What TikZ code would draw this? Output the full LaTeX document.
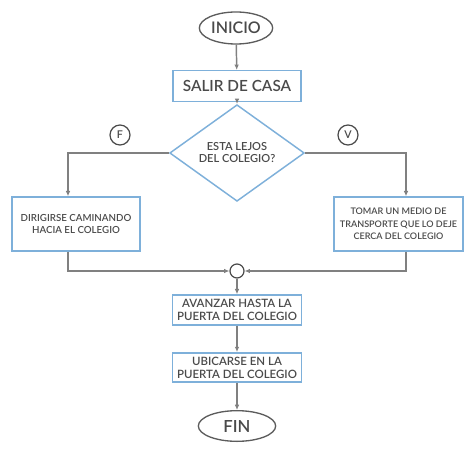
\documentclass[tikz,border=0pt]{standalone}
\usepackage{fontspec}
\setmainfont{Lato}[UprightFont=* Semibold]
\usetikzlibrary{shapes.geometric,arrows.meta}
\definecolor{borde}{HTML}{7EB0DA}
\definecolor{texto}{HTML}{4A4A4A}
\definecolor{linea}{HTML}{808080}

\begin{document}
\begin{tikzpicture}[x=0.75pt,y=-0.75pt,
  caja/.style={draw=borde,line width=1.1pt,text=texto,align=center,inner sep=1pt},
  extremo/.style={ellipse,draw=texto!90,line width=1pt,text=texto,inner sep=0pt},
  marca/.style={circle,draw=texto,line width=0.9pt,text=texto,inner sep=0pt},
  flecha/.style={draw=linea,line width=1.1pt,-{Latex[length=4pt,width=3.5pt]}},
  linea/.style={draw=linea,line width=1.1pt}]
   \useasboundingbox (0,0) rectangle (474,456);
   % inicio y primer paso
   \node[extremo,minimum width=55pt,minimum height=24pt,font=\fontsize{12}{14}\selectfont] (inicio) at (236,28) {INICIO};
   \node[caja,minimum width=96pt,minimum height=23pt,font=\fontsize{11.5}{13}\selectfont] (salir) at (237,86) {SALIR DE CASA};
   \node[diamond,draw=borde,line width=1.1pt,text=texto,align=center,inner sep=0pt,
         minimum width=101pt,minimum height=43pt,font=\fontsize{8.3}{9}\selectfont] (decision) at (237,153) {ESTA LEJOS\\DEL COLEGIO?};
   \node[marca,minimum size=15pt,font=\fontsize{8}{9}\selectfont] (falso) at (120,135) {F};
   \node[marca,minimum size=15pt,font=\fontsize{8}{9}\selectfont] (verdad) at (348,135) {V};
   % ramas
   \node[caja,minimum width=96pt,minimum height=40.5pt,font=\fontsize{7.3}{9.3}\selectfont] (caminar) at (76,224) {DIRIGIRSE CAMINANDO\\HACIA EL COLEGIO};
   \node[caja,minimum width=97pt,minimum height=40.5pt,font=\fontsize{6.8}{9.3}\selectfont] (transporte) at (398.5,224) {TOMAR UN MEDIO DE\\TRANSPORTE QUE LO DEJE\\CERCA DEL COLEGIO};
   \node[circle,draw=texto,line width=0.9pt,minimum size=10.5pt,inner sep=0pt] (union) at (237,271) {};
   % final
   \node[caja,minimum width=97pt,minimum height=22.5pt,font=\fontsize{8.6}{9.6}\selectfont] (avanzar) at (237,310) {AVANZAR HASTA LA\\PUERTA DEL COLEGIO};
   \node[caja,minimum width=97pt,minimum height=22pt,font=\fontsize{8.6}{9.6}\selectfont] (ubicarse) at (237,367.5) {UBICARSE EN LA\\PUERTA DEL COLEGIO};
   \node[extremo,minimum width=58pt,minimum height=23pt,font=\fontsize{12.5}{14}\selectfont] (fin) at (237,426) {FIN};
   \coordinate (izq) at (68,153);
   \coordinate (der) at (406,153);
   \coordinate (izqb) at (68,271);
   \coordinate (derb) at (406,271);
   % conectores
   \draw[flecha] (inicio) -- (salir);
   \draw[flecha] (salir) -- (decision);
   \draw[flecha] (decision.west) -- (izq) -- (izq |- caminar.north);
   \draw[flecha] (decision.east) -- (der) -- (der |- transporte.north);
   \draw[flecha] (izq |- caminar.south) -- (izqb) -- (union.west);
   \draw[flecha] (der |- transporte.south) -- (derb) -- (union.east);
   \draw[flecha] (union) -- (avanzar);
   \draw[flecha] (avanzar) -- (ubicarse);
   \draw[flecha] (ubicarse) -- (fin);
\end{tikzpicture}
\end{document}
